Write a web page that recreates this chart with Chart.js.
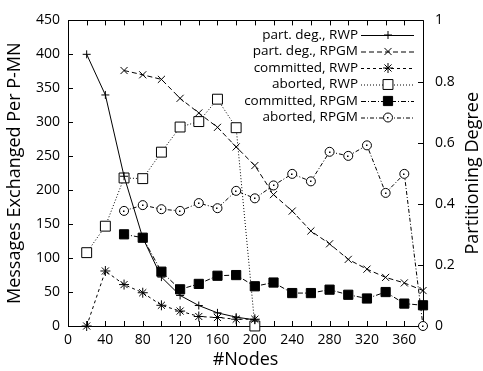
<!DOCTYPE html>
<html>
<head>
<meta charset="utf-8">
<script src="https://cdn.jsdelivr.net/npm/chart.js@4/dist/chart.umd.min.js"></script>
<style>
  html, body { margin: 0; padding: 0; background: #fff; }
  #wrap { width: 483px; height: 371px; }
</style>
</head>
<body>
<div id="wrap"><canvas id="grafico"></canvas></div>
<script>
// Eixo X: numero de nos
const nodes = [20, 40, 60, 80, 100, 120, 140, 160, 180, 200, 220, 240, 260, 280, 300, 320, 340, 360, 380];

// Grau de particionamento (eixo direito, 0..1)
const partDegRWP  = [0.889, 0.756, 0.49, 0.289, 0.16, 0.1, 0.067, 0.043, 0.029, 0.02, null, null, null, null, null, null, null, null, null];
const partDegRPGM = [null, null, 0.836, 0.822, 0.807, 0.745, 0.697, 0.65, 0.586, 0.525, 0.43, 0.376, 0.311, 0.269, 0.218, 0.186, 0.159, 0.141, 0.116];

// Mensagens trocadas por P-MN (eixo esquerdo)
const committedRWP  = [0, 81, 61, 49, 30.5, 22, 14, 12.5, 10, 10, null, null, null, null, null, null, null, null, null];
const abortedRWP    = [108, 147, 218, 217, 256, 293, 301, 334, 292, 0, null, null, null, null, null, null, null, null, null];
const committedRPGM = [null, null, 135, 130, 80, 54, 62, 74, 75, 58.5, 64, 48.5, 48.5, 53.5, 46, 40.5, 50, 33, 30.5];
const abortedRPGM   = [null, null, 169.5, 178, 172, 169.5, 181, 173.5, 199, 188, 207, 224, 213, 256.5, 250.5, 266, 196, 224, 0];

const FONTE = '"Open Sans", "DejaVu Sans", sans-serif';

function pares(valores) {
    return nodes.map((n, i) => ({ x: n, y: valores[i] })).filter(p => p.y !== null);
}

function serie(label, valores, eixo, dash, estilo, raio, cheio) {
    return {
        label: label,
        data: pares(valores),
        yAxisID: eixo,
        clip: false,
        borderColor: '#000',
        borderWidth: 1,
        borderDash: dash,
        pointStyle: estilo,
        pointRadius: raio,
        pointBorderColor: '#000',
        pointBorderWidth: 1,
        pointBackgroundColor: cheio ? '#000' : '#fff',
        fill: false,
        tension: 0
    };
}

// Desenha moldura, marcas internas, legenda e o titulo do eixo direito
const molduraPlugin = {
    id: 'moldura',
    beforeDatasetsDraw(chart) {
        const { ctx, chartArea: a, scales } = chart;
        ctx.save();
        ctx.strokeStyle = '#000';
        ctx.lineWidth = 1;
        ctx.setLineDash([]);
        ctx.beginPath();
        ctx.rect(Math.round(a.left) + 0.5, Math.round(a.top) + 0.5, Math.round(a.right - a.left), Math.round(a.bottom - a.top));
        ctx.stroke();

        const len = 5;
        ctx.beginPath();
        scales.x.ticks.forEach(t => {
            const px = Math.round(scales.x.getPixelForValue(t.value)) + 0.5;
            ctx.moveTo(px, a.bottom); ctx.lineTo(px, a.bottom - len);
            ctx.moveTo(px, a.top); ctx.lineTo(px, a.top + len);
        });
        scales.y.ticks.forEach(t => {
            const py = Math.round(scales.y.getPixelForValue(t.value)) + 0.5;
            ctx.moveTo(a.left, py); ctx.lineTo(a.left + len, py);
        });
        scales.y2.ticks.forEach(t => {
            const py = Math.round(scales.y2.getPixelForValue(t.value)) + 0.5;
            ctx.moveTo(a.right, py); ctx.lineTo(a.right - len, py);
        });
        ctx.stroke();
        ctx.restore();
    },
    afterDatasetsDraw(chart) {
        const { ctx, chartArea: a } = chart;
        ctx.save();
        ctx.strokeStyle = '#000';
        ctx.lineWidth = 1;

        // pontinho central dos circulos (aborted, RPGM)
        chart.getDatasetMeta(5).data.forEach(el => {
            ctx.fillStyle = '#000';
            ctx.fillRect(Math.round(el.x) - 1, Math.round(el.y) - 0.5, 1.5, 1.5);
        });

        // legenda no canto superior direito
        ctx.font = '13.5px ' + FONTE;
        ctx.textAlign = 'right';
        ctx.textBaseline = 'middle';
        chart.data.datasets.forEach((ds, i) => {
            const y = 35 + i * 16.5;
            ctx.fillStyle = '#fff';
            ctx.fillRect(250, y - 8, 168, 16.5);
            ctx.fillStyle = '#000';
            ctx.fillText(ds.label, 358, y);
            ctx.save();
            ctx.setLineDash(ds.borderDash);
            ctx.beginPath();
            ctx.moveTo(361, y + 0.5); ctx.lineTo(414, y + 0.5);
            ctx.stroke();
            ctx.restore();
            ctx.fillStyle = ds.pointBackgroundColor;
            ctx.strokeStyle = '#000';
            ctx.setLineDash([]);
            Chart.helpers.drawPoint(ctx, { pointStyle: ds.pointStyle, radius: ds.pointRadius, borderWidth: 1 }, 388, y);
            ctx.fillStyle = '#000';
            if (i === 5) ctx.fillRect(387, y - 0.5, 1.5, 1.5);
        });

        // titulo do eixo direito, lido de baixo para cima
        ctx.save();
        ctx.translate(473, (a.top + a.bottom) / 2);
        ctx.rotate(-Math.PI / 2);
        ctx.textAlign = 'center';
        ctx.font = '18px ' + FONTE;
        ctx.fillText('Partitioning Degree', 0, 0);
        ctx.restore();
        ctx.restore();
    }
};

new Chart(document.getElementById('grafico'), {
    type: 'line',
    data: {
        datasets: [
            serie('part. deg., RWP', partDegRWP, 'y2', [], 'cross', 4, false),
            serie('part. deg., RPGM', partDegRPGM, 'y2', [5, 3], 'crossRot', 5, false),
            serie('committed, RWP', committedRWP, 'y', [3, 3], 'star', 5, false),
            serie('aborted, RWP', abortedRWP, 'y', [1, 2], 'rect', 7, false),
            serie('committed, RPGM', committedRPGM, 'y', [5, 2, 1, 2], 'rect', 6.5, true),
            serie('aborted, RPGM', abortedRPGM, 'y', [4, 2, 1, 2], 'circle', 4.5, false)
        ]
    },
    options: {
        responsive: true,
        maintainAspectRatio: false,
        animation: false,
        layout: { padding: { top: 16, left: 0, right: 0, bottom: 0 } },
        plugins: { legend: { display: false }, tooltip: { enabled: false } },
        scales: {
            x: {
                type: 'linear',
                min: 0, max: 380,
                grid: { display: false, drawTicks: false },
                border: { display: false },
                afterFit: s => { s.height = 45; },
                ticks: {
                    stepSize: 20, autoSkip: false, maxRotation: 0, padding: 6,
                    color: '#000', font: { family: FONTE, size: 14 },
                    callback: v => (v % 40 === 0 ? String(v) : '')
                },
                title: { display: true, text: '#Nodes', color: '#000', font: { family: FONTE, size: 18 }, padding: { top: 0, bottom: 0 } }
            },
            y: {
                position: 'left',
                min: 0, max: 450,
                grid: { display: false, drawTicks: false },
                border: { display: false },
                afterFit: s => { s.width = 68; },
                ticks: { stepSize: 50, padding: 8, color: '#000', font: { family: FONTE, size: 14 } },
                title: { display: true, text: 'Messages Exchanged Per P-MN', color: '#000', font: { family: FONTE, size: 18 }, padding: { top: 4, bottom: 0 } }
            },
            y2: {
                position: 'right',
                min: 0, max: 1,
                grid: { display: false, drawTicks: false },
                border: { display: false },
                afterFit: s => { s.width = 60; },
                ticks: { stepSize: 0.2, padding: 12, color: '#000', font: { family: FONTE, size: 14 },
                         callback: v => (v === 0 || v === 1 ? String(v) : v.toFixed(1)) }
            }
        }
    },
    plugins: [molduraPlugin]
});
</script>
</body>
</html>
